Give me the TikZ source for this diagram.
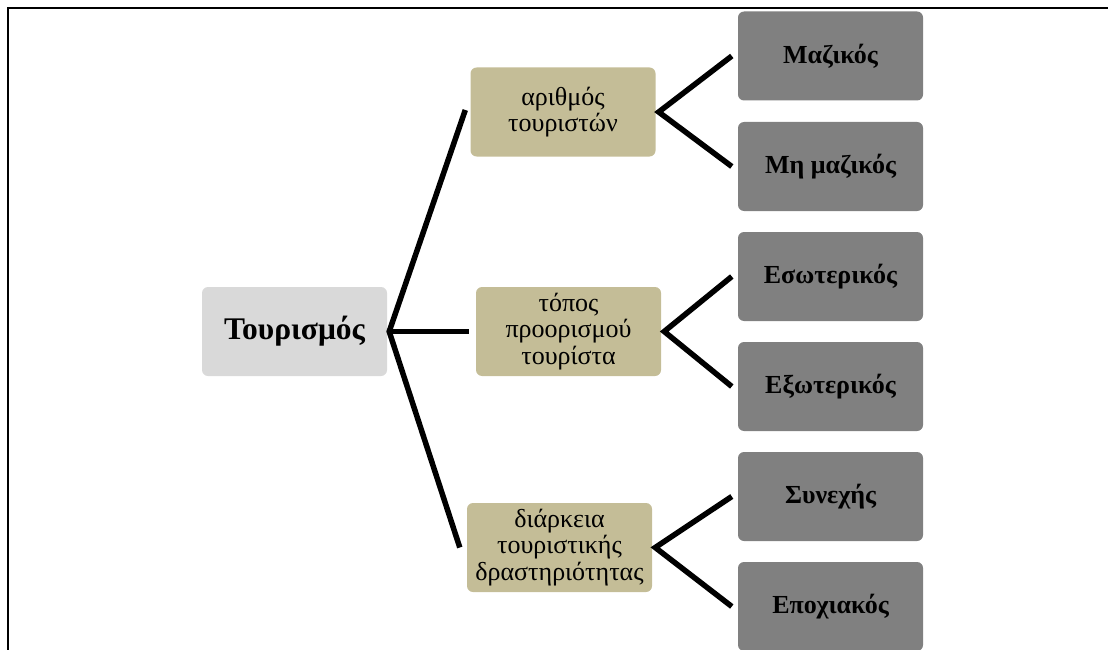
\documentclass[tikz,border=0pt]{standalone}
\usepackage{fontspec}
\setmainfont{Liberation Serif}
\usetikzlibrary{calc}
\definecolor{rootfill}{HTML}{D9D9D9}
\definecolor{midfill}{HTML}{C4BD97}
\definecolor{leaffill}{HTML}{808080}
\tikzset{
  box/.style={draw=none, rounded corners=6pt, minimum width=185pt, minimum height=89pt, inner sep=2pt, align=center, text=black},
  rootbox/.style={box, fill=rootfill, font=\fontsize{31.5}{34}\selectfont\bfseries},
  midbox/.style={box, fill=midfill, font=\fontsize{26}{26.5}\selectfont},
  leafbox/.style={box, fill=leaffill, font=\fontsize{26}{28}\selectfont\bfseries},
  conn/.style={line width=5.5pt, black, line join=miter},
  frameline/.style={line width=1.5pt, black}
}
\begin{document}
\begin{tikzpicture}[x=1pt,y=-1pt]
\useasboundingbox (0,0) rectangle (1108,650);
\coordinate (fbl) at (8,650);
\coordinate (ftl) at (8,8);
\coordinate (ftr) at (1108,8);
\draw[frameline] (fbl) -- (ftl) -- (ftr);
\node[rootbox] (root) at (294.5,331.5) {Τουρισμός};
\node[midbox] (m1) at (563,112) {αριθμός\\τουριστών};
\node[midbox] (m2) at (568.5,331.5) {τόπος\\προορισμού\\τουρίστα};
\node[midbox] (m3) at (559.5,547.5) {διάρκεια\\τουριστικής\\δραστηριότητας};
\node[leafbox] (r1) at (830.5,56) {Μαζικός};
\node[leafbox] (r2) at (830.5,166.5) {Μη μαζικός};
\node[leafbox] (r3) at (830.5,276.5) {Εσωτερικός};
\node[leafbox] (r4) at (830.5,386.5) {Εξωτερικός};
\node[leafbox] (r5) at (830.5,496.5) {Συνεχής};
\node[leafbox] (r6) at (830.5,606.5) {Εποχιακός};
\draw[conn] ($(m1.west)+(-5,-2)$) -- ($(root.east)+(2,0)$) -- ($(m3.west)+(-7,0)$);
\draw[conn] ($(root.east)+(2,0)$) -- ($(m2.west)+(-7,0)$);
\draw[conn] ($(r1.west)+(-6,0)$) -- ($(m1.east)+(3,0)$) -- ($(r2.west)+(-6,0)$);
\draw[conn] ($(r3.west)+(-6,0)$) -- ($(m2.east)+(3,0)$) -- ($(r4.west)+(-6,0)$);
\draw[conn] ($(r5.west)+(-6,0)$) -- ($(m3.east)+(3,0)$) -- ($(r6.west)+(-6,0)$);
\end{tikzpicture}
\end{document}
